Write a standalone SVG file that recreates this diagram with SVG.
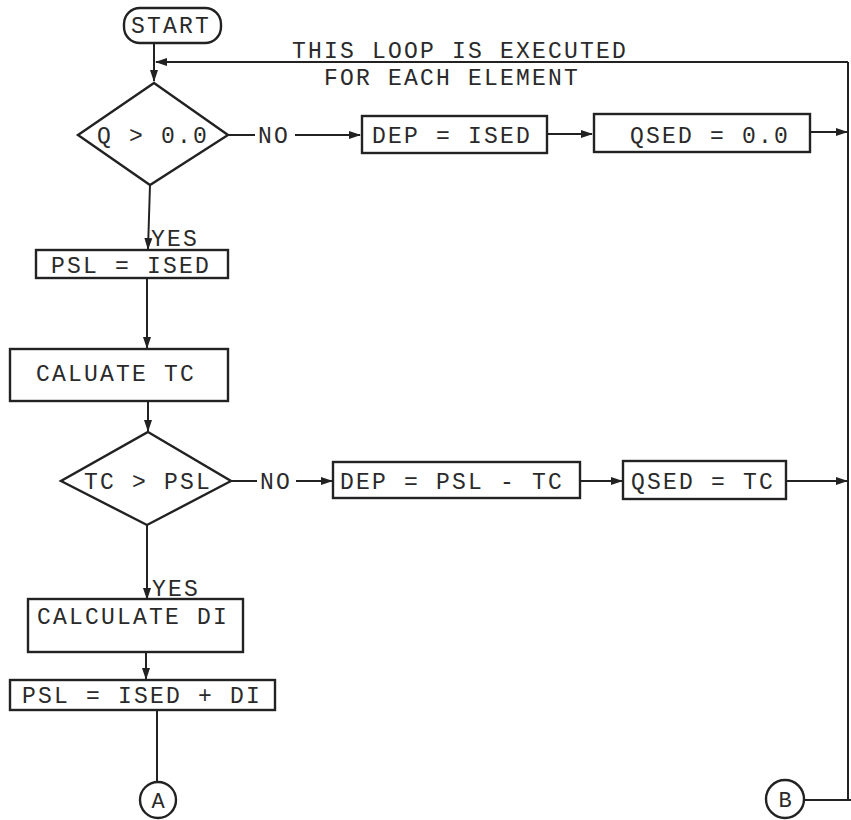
<svg xmlns="http://www.w3.org/2000/svg" width="851" height="820" viewBox="0 0 851 820">
<defs>
<marker id="ah" viewBox="0 0 12 10" refX="11" refY="5" markerWidth="12" markerHeight="10" markerUnits="userSpaceOnUse" orient="auto">
<path d="M0,1 L12,5 L0,9 Z" fill="#222"/>
</marker>
</defs>
<style>
.s{fill:none;stroke:#222;stroke-width:2.2}
.b{fill:#fff;stroke:#222;stroke-width:2.4}
.c{fill:none;stroke:#222;stroke-width:2;}
.t{font-family:"Liberation Mono","Courier New",monospace;font-size:23px;letter-spacing:2.2px;fill:#2a2a2a}
.ts{font-family:"Liberation Mono","Courier New",monospace;font-size:22px;fill:#2a2a2a}
</style>
<rect width="851" height="820" fill="#fff"/>
<g id="connectors">
<path class="c" d="M154,43 V81" marker-end="url(#ah)"/>
<path class="c" d="M848,62 H156" marker-end="url(#ah)"/>
<path class="c" d="M848,62 V800"/>
<path class="c" d="M228,135 H255"/>
<path class="c" d="M295,135 H360" marker-end="url(#ah)"/>
<path class="c" d="M547,134 H592" marker-end="url(#ah)"/>
<path class="c" d="M810,132 H847" marker-end="url(#ah)"/>
<path class="c" d="M150,185 L148,249" marker-end="url(#ah)"/>
<path class="c" d="M147,278 V348" marker-end="url(#ah)"/>
<path class="c" d="M148,401 V431" marker-end="url(#ah)"/>
<path class="c" d="M231,481 H257"/>
<path class="c" d="M296,481 H332" marker-end="url(#ah)"/>
<path class="c" d="M580,481 H622" marker-end="url(#ah)"/>
<path class="c" d="M786,481 H847" marker-end="url(#ah)"/>
<path class="c" d="M147,525 V599" marker-end="url(#ah)"/>
<path class="c" d="M146,652 V679" marker-end="url(#ah)"/>
<path class="c" d="M157,710 V781"/>
<path class="c" d="M804,800 H851"/>
<text class="t" x="258" y="143">NO</text>
<text class="t" x="260" y="489">NO</text>
<text class="t" x="151" y="246">YES</text>
<text class="t" x="152" y="596">YES</text>
</g>
<g id="note">
<text class="t" x="292" y="58">THIS LOOP IS EXECUTED</text>
<text class="t" x="324" y="85">FOR EACH ELEMENT</text>
</g>
<g id="start">
<rect class="b" x="124" y="8" width="97" height="35" rx="16" ry="16"/>
<text class="t" x="131" y="33">START</text>
</g>
<g id="d1">
<polygon class="b" points="154,83 228,135 150,185 78,135"/>
<text class="t" x="97" y="143">Q &gt; 0.0</text>
</g>
<g id="dep1">
<rect class="b" x="362" y="116" width="185" height="37"/>
<text class="t" x="372" y="143">DEP = ISED</text>
</g>
<g id="qsed1">
<rect class="b" x="594" y="114" width="216" height="38"/>
<text class="t" x="630" y="143">QSED = 0.0</text>
</g>
<g id="psl1">
<rect class="b" x="36" y="250" width="192" height="28"/>
<text class="t" x="51" y="273">PSL = ISED</text>
</g>
<g id="tc">
<rect class="b" x="10" y="349" width="218" height="52"/>
<text class="t" x="36" y="381">CALUATE TC</text>
</g>
<g id="d2">
<polygon class="b" points="148,432 231,481 147,525 61,481"/>
<text class="t" x="84" y="489">TC &gt; PSL</text>
</g>
<g id="dep2">
<rect class="b" x="333" y="462" width="247" height="36"/>
<text class="t" x="340" y="489">DEP = PSL - TC</text>
</g>
<g id="qsed2">
<rect class="b" x="623" y="461" width="163" height="38"/>
<text class="t" x="631" y="489">QSED = TC</text>
</g>
<g id="di">
<rect class="b" x="28" y="599" width="215" height="53"/>
<text class="t" x="37" y="624">CALCULATE DI</text>
</g>
<g id="psl2">
<rect class="b" x="10" y="680" width="265" height="30"/>
<text class="t" x="22" y="703">PSL = ISED + DI</text>
</g>
<g id="a">
<circle class="b" cx="158" cy="800" r="18"/>
<text class="ts" x="158" y="808" text-anchor="middle">A</text>
</g>
<g id="b">
<circle class="b" cx="785" cy="799" r="19"/>
<text class="ts" x="785" y="807" text-anchor="middle">B</text>
</g>
</svg>
